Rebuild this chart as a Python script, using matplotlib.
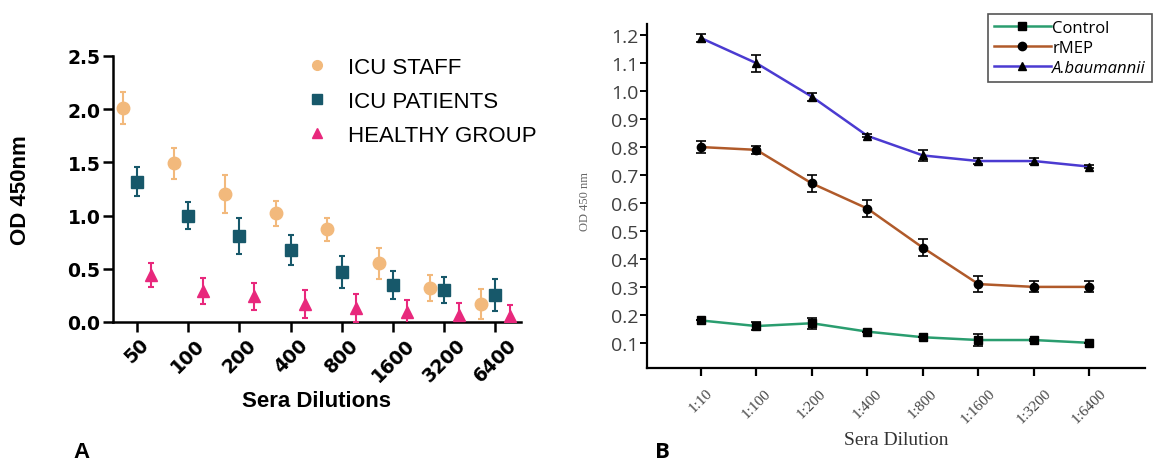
import matplotlib
matplotlib.use('Agg')
import matplotlib.pyplot as plt
import numpy as np
from matplotlib.lines import Line2D

# ---------------- Panel A data ----------------
dilutions_a = ['50', '100', '200', '400', '800', '1600', '3200', '6400']
staff = [2.01, 1.49, 1.20, 1.02, 0.87, 0.55, 0.32, 0.17]
staff_err = [0.15, 0.15, 0.18, 0.12, 0.11, 0.15, 0.12, 0.14]
patients = [1.32, 1.00, 0.81, 0.68, 0.47, 0.35, 0.30, 0.25]
patients_err = [0.14, 0.13, 0.17, 0.14, 0.15, 0.13, 0.12, 0.15]
healthy = [0.44, 0.29, 0.24, 0.17, 0.13, 0.09, 0.07, 0.06]
healthy_err = [0.11, 0.12, 0.13, 0.13, 0.13, 0.12, 0.11, 0.10]
labels_a = ['ICU STAFF', 'ICU PATIENTS', 'HEALTHY GROUP']

# ---------------- Panel B data ----------------
dilutions_b = ['1:10', '1:100', '1:200', '1:400', '1:800', '1:1600', '1:3200', '1:6400']
control = [0.18, 0.16, 0.17, 0.14, 0.12, 0.11, 0.11, 0.10]
control_err = [0.0, 0.015, 0.02, 0.0, 0.0, 0.02, 0.005, 0.0]
rmep = [0.80, 0.79, 0.67, 0.58, 0.44, 0.31, 0.30, 0.30]
rmep_err = [0.02, 0.015, 0.03, 0.03, 0.03, 0.03, 0.02, 0.02]
abau = [1.19, 1.10, 0.98, 0.84, 0.77, 0.75, 0.75, 0.73]
abau_err = [0.015, 0.03, 0.015, 0.005, 0.02, 0.01, 0.01, 0.005]
labels_b = ['Control', 'rMEP', 'A.baumannii']

W, H = 1165, 464
fig = plt.figure(figsize=(W / 100, H / 100), dpi=100)

# ================= Panel A =================
c_staff, c_pat, c_heal = '#F2B97C', '#17586A', '#E8287C'
ax1 = fig.add_axes([113 / W, 1 - 323 / H, 408 / W, 266 / H])
x = np.arange(len(dilutions_a))
off = 0.28
ax1.errorbar(x - off, staff, yerr=staff_err, fmt='o', color=c_staff, ms=9,
             elinewidth=1.5, capsize=2.5, capthick=1.5, zorder=3)
ax1.errorbar(x, patients, yerr=patients_err, fmt='s', color=c_pat, ms=9,
             elinewidth=1.5, capsize=2.5, capthick=1.5, zorder=3)
ax1.errorbar(x + off, healthy, yerr=healthy_err, fmt='^', color=c_heal, ms=9,
             elinewidth=1.5, capsize=2.5, capthick=1.5, zorder=3)
ax1.set_xlim(-0.47, 7.5)
ax1.set_ylim(0, 2.5)
ax1.set_yticks([0, 0.5, 1.0, 1.5, 2.0, 2.5])
ax1.set_yticklabels(['0.0', '0.5', '1.0', '1.5', '2.0', '2.5'])
ax1.set_xticks(x)
ax1.set_xticklabels(dilutions_a, rotation=45, ha='center')
for s in ['top', 'right']:
    ax1.spines[s].set_visible(False)
for s in ['left', 'bottom']:
    ax1.spines[s].set_linewidth(1.8)
ax1.tick_params(axis='both', width=1.8, length=7, labelsize=13.5, pad=2)
for t in ax1.get_xticklabels() + ax1.get_yticklabels():
    t.set_fontweight('bold')
    t.set_family('DejaVu Sans')
ax1.set_ylabel('OD 450nm', fontsize=16, fontweight='bold', family='Liberation Sans', labelpad=26)
ax1.set_xlabel('Sera Dilutions', fontsize=16, fontweight='bold', family='Liberation Sans', labelpad=4)

handles_a = [Line2D([], [], ls='none', marker='o', color=c_staff, ms=7),
             Line2D([], [], ls='none', marker='s', color=c_pat, ms=7),
             Line2D([], [], ls='none', marker='^', color=c_heal, ms=7)]
leg1 = fig.legend(handles_a, labels_a, loc='upper left', bbox_to_anchor=(295 / W, 1 - 47 / H),
                  frameon=False, prop={'family': 'Liberation Sans', 'size': 16},
                  handlelength=1.0, handletextpad=0.9, labelspacing=0.58, borderpad=0)

fig.text(73 / W, 1 - 458 / H, 'A', fontsize=16, fontweight='bold', family='Liberation Sans',
         ha='left', va='baseline')

# ================= Panel B =================
c_ctrl, c_rmep, c_abau = '#2A9D6F', '#B05A2A', '#4B3BD1'
ax2 = fig.add_axes([647 / W, 1 - 369 / H, 498 / W, 344 / H])
xb = np.arange(len(dilutions_b))
for vals, errs, col, mk in [(control, control_err, c_ctrl, 's'),
                            (rmep, rmep_err, c_rmep, 'o'),
                            (abau, abau_err, c_abau, '^')]:
    ax2.plot(xb, vals, color=col, lw=1.8, zorder=2)
    ax2.errorbar(xb, vals, yerr=errs, fmt=mk, color='black', ms=6,
                 elinewidth=1.2, capsize=3.5, capthick=1.2, zorder=3)
ax2.set_xlim(-0.97, 8.0)
ax2.set_ylim(0.01, 1.24)
ax2.set_yticks([0.1, 0.2, 0.3, 0.4, 0.5, 0.6, 0.7, 0.8, 0.9, 1.0, 1.1, 1.2])
ax2.set_yticklabels(['0.1', '0.2', '0.3', '0.4', '0.5', '0.6', '0.7', '0.8', '0.9', '1.0', '1.1', '1.2'])
ax2.set_xticks(xb)
ax2.set_xticklabels(dilutions_b, rotation=45, ha='center')
for s in ['top', 'right']:
    ax2.spines[s].set_visible(False)
for s in ['left', 'bottom']:
    ax2.spines[s].set_linewidth(1.6)
ax2.tick_params(axis='y', width=1.4, length=5, labelsize=14, pad=1, labelcolor='#404040')
ax2.tick_params(axis='x', width=1.6, length=6, labelsize=11, pad=7, labelcolor='#444444')
for t in ax2.get_yticklabels():
    t.set_family('Open Sans')
for t in ax2.get_xticklabels():
    t.set_family('Liberation Serif')
ax2.set_xlabel('Sera Dilution', fontsize=14, family='Liberation Serif', color='#333333', labelpad=4)
fig.text(585 / W, 1 - 202 / H, 'OD 450 nm', fontsize=9, family='Liberation Serif', color='#666666',
         rotation=90, ha='center', va='center')

handles_b = [Line2D([], [], color=c_ctrl, lw=1.8, marker='s', mfc='black', mec='black', ms=6),
             Line2D([], [], color=c_rmep, lw=1.8, marker='o', mfc='black', mec='black', ms=6),
             Line2D([], [], color=c_abau, lw=1.8, marker='^', mfc='black', mec='black', ms=6)]
leg2 = fig.legend(handles_b, labels_b, loc='upper left', bbox_to_anchor=(988 / W, 1 - 15 / H),
                  frameon=True, fancybox=False, edgecolor='#555555', framealpha=1,
                  prop={'family': 'Open Sans', 'size': 12},
                  handlelength=3.4, handletextpad=0.1, labelspacing=0.25, borderpad=0.35,
                  borderaxespad=0)
leg2.get_frame().set_linewidth(1.2)
leg2.get_texts()[2].set_style('italic')

fig.text(655 / W, 1 - 458 / H, 'B', fontsize=16, fontweight='bold', family='Open Sans',
         ha='left', va='baseline')

fig.savefig('out.png', dpi=100)
